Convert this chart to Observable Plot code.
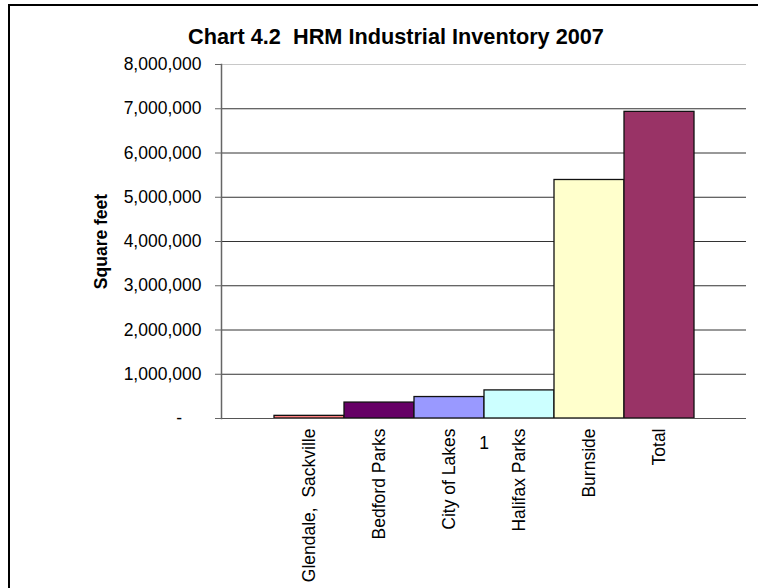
<!DOCTYPE html>
<html>
<head>
<meta charset="utf-8">
<script src="https://cdn.jsdelivr.net/npm/d3@7"></script>
<script src="https://cdn.jsdelivr.net/npm/@observablehq/plot@0.6"></script>
<style>
  html, body { margin: 0; padding: 0; background: #fff; }
  #wrap { position: relative; width: 758px; height: 588px; overflow: hidden; }
  #border { position: absolute; left: 8px; top: 4px; width: 900px; height: 800px;
            border-top: 2px solid #000; border-left: 2px solid #000; pointer-events: none; }
  svg { display: block; }
</style>
</head>
<body>
<div id="wrap"><div id="chart"></div><div id="border"></div></div>
<script>
const series = ["Glendale,\u00a0 Sackville", "Bedford Parks", "City of Lakes", "Halifax Parks", "Burnside", "Total"];
const values = [60000, 360000, 485000, 635000, 5390000, 6930000];
const colors = ["#FF8080", "#660066", "#9999FF", "#CCFFFF", "#FFFFCC", "#993366"];
const yTicks = [0, 1000000, 2000000, 3000000, 4000000, 5000000, 6000000, 7000000, 8000000];
const category = ["1"];
const titleText = ["Chart 4.2  HRM Industrial Inventory 2007"];
const yLabel = ["Square feet"];

const data = series.map((name, i) => ({name, value: values[i]}));
const fmt = d => d === 0 ? "-\u2007\u2007" : d3.format(",")(d);

const chart = Plot.plot({
  width: 758,
  height: 588,
  marginLeft: 221,
  marginRight: 12,
  marginTop: 64,
  marginBottom: 170,
  style: {fontFamily: "'Liberation Sans', Arial, sans-serif", fontSize: "17.5px", color: "#000", background: "#fff"},
  x: {domain: series, paddingInner: 0, paddingOuter: 0.75, axis: null},
  y: {domain: [0, 8000000], axis: null},
  color: {domain: series, range: colors},
  marks: [
    Plot.ruleY(yTicks.filter(d => d > 0 && d < 8000000), {stroke: "#333", strokeWidth: 1}),
    Plot.ruleY([8000000], {stroke: "#c8c8c8", strokeWidth: 1}),
    Plot.barY(data, {x: "name", y: "value", fill: "name", stroke: "#111", strokeWidth: 1.3}),
    Plot.ruleY([0], {stroke: "#555", strokeWidth: 1.2}),
    Plot.frame({anchor: "left", stroke: "#666", strokeWidth: 1.5}),
    Plot.axisY({ticks: yTicks, tickSize: 6, tickPadding: 14, tickFormat: fmt, stroke: "#666", fill: "#000", fontSize: 17.5, label: null}),
    Plot.axisX({tickRotate: -90, tickSize: 0, tickPadding: 10, fontSize: 17.5, fill: "#000", label: null}),
    Plot.text(category, {text: d => d, frameAnchor: "bottom", lineAnchor: "middle", dy: 25, fontSize: 17.5, fill: "#000"}),
    Plot.text(yLabel, {text: d => d, frameAnchor: "left", textAnchor: "middle", lineAnchor: "middle", dx: -120, rotate: -90, fontSize: 17.5, fontWeight: "bold", fill: "#000"}),
    Plot.text(titleText, {text: d => d, frameAnchor: "top", textAnchor: "middle", lineAnchor: "middle", dx: -88, dy: -27, fontSize: 21.7, fontWeight: "bold", fill: "#000"})
  ]
});
document.getElementById("chart").appendChild(chart);
</script>
</body>
</html>
